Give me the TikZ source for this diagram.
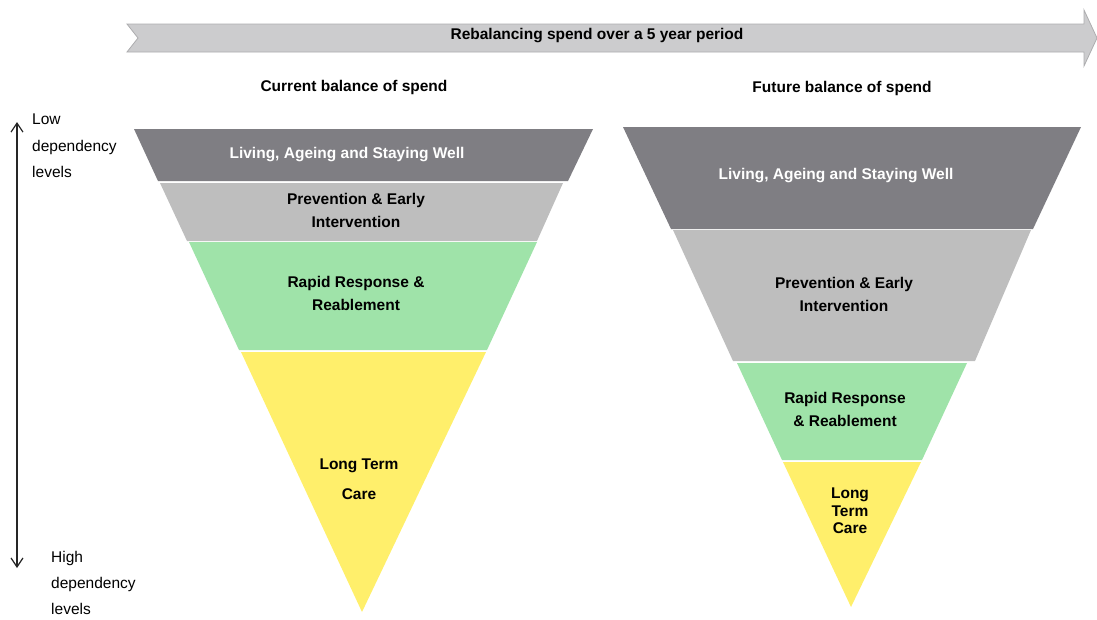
\documentclass[tikz,border=0pt]{standalone}
\usepackage{fontspec}
\setmainfont{Liberation Sans}
\usetikzlibrary{positioning, arrows.meta}
\definecolor{cBanner}{HTML}{CCCCCE}
\definecolor{cBannerEdge}{HTML}{ADADAF}
\definecolor{cWell}{HTML}{7F7E83}
\definecolor{cPrevent}{HTML}{BEBEBE}
\definecolor{cRapid}{HTML}{9FE3A9}
\definecolor{cCare}{HTML}{FFEF6B}
\tikzset{
  band/.style={
    fill=#1, draw=none
  },
  bandlabel/.style={
    align=center, inner sep=0pt, text=#1,
    font=\bfseries\fontsize{15.5}{23}\selectfont
  },
  bandlabel/.default=black,
  headlabel/.style={
    inner sep=0pt, font=\bfseries\fontsize{15.5}{19}\selectfont
  },
  sidelabel/.style={
    align=left, inner sep=0pt, anchor=west,
    font=\fontsize{15.5}{26.5}\selectfont
  },
  levelarrow/.style={
    {Straight Barb[length=9pt, width=12pt]}-{Straight Barb[length=9pt, width=12pt]},
    line width=1.2pt, color=black!85
  },
}

\begin{document}
\begin{tikzpicture}[x=1pt, y=-1pt]
\useasboundingbox (0,0) rectangle (1097,619);

% ---- Banner arrow ----
\fill[cBanner, draw=cBannerEdge, line width=0.8pt]
  (127,24) -- (1084,24) -- (1084,10) -- (1097,38) -- (1084,66)
  -- (1084,52) -- (127,52) -- (138,38) -- cycle;
\node[headlabel] (period) at (597,36) {Rebalancing spend over a 5 year period};

% ---- Headings ----
\node[headlabel] (current) at (354,87) {Current balance of spend};
\node[headlabel] (future) at (842,88) {Future balance of spend};

% ---- Current funnel ----
\fill[band=cWell] (134,129) -- (593,129) -- (568,181) -- (158,181) -- cycle;
\fill[band=cPrevent] (160,183) -- (563,183) -- (537,241) -- (187,241) -- cycle;
\fill[band=cRapid] (189,242) -- (537,242) -- (487,350) -- (239,350) -- cycle;
\fill[band=cCare] (241,352) -- (486,352) -- (362,612) -- cycle;

\node[bandlabel=white] (curwell) at (347,155) {Living, Ageing and Staying Well};
\node[bandlabel] (curprevent) at (356,210) {Prevention \& Early\\Intervention};
\node[bandlabel] (currapid) at (356,293) {Rapid Response \&\\Reablement};
\node[bandlabel, font=\bfseries\fontsize{15.5}{30}\selectfont]
  (curcare) at (359,479) {Long Term\\Care};

% ---- Future funnel ----
\fill[band=cWell] (623,127) -- (1081,127) -- (1033,229) -- (671,229) -- cycle;
\fill[band=cPrevent] (673,230) -- (1031,230) -- (975,361) -- (733,361) -- cycle;
\fill[band=cRapid] (737,363) -- (967,363) -- (922,460) -- (782,460) -- cycle;
\fill[band=cCare] (783,462) -- (921,462) -- (851,607) -- cycle;

\node[bandlabel=white] (futwell) at (836,176) {Living, Ageing and Staying Well};
\node[bandlabel] (futprevent) at (844,294) {Prevention \& Early\\Intervention};
\node[bandlabel] (futrapid) at (845,409) {Rapid Response\\\& Reablement};
\node[bandlabel, font=\bfseries\fontsize{15.5}{17.5}\selectfont]
  (futcare) at (850,511) {Long\\Term\\Care};

% ---- Dependency scale ----
\coordinate (lowtip) at (17,122);
\coordinate (hightip) at (17,568);
\draw[levelarrow] (hightip) -- (lowtip);
\node[sidelabel] (lowdep) at (32,146) {Low\\dependency\\levels};
\node[sidelabel, font=\fontsize{15.5}{26}\selectfont]
  (highdep) at (51,583) {High\\dependency\\levels};

\end{tikzpicture}
\end{document}
